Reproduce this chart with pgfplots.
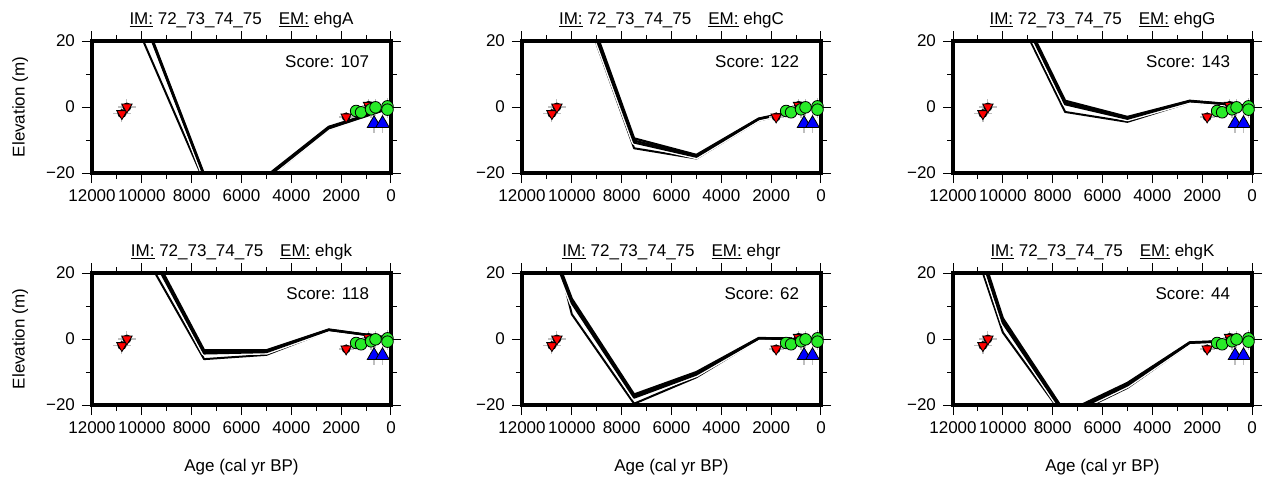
\documentclass[border=0pt]{standalone}
\usepackage{fontspec}
\setmainfont{Liberation Sans}
\usepackage{pgfplots}
\pgfplotsset{compat=1.18}
\definecolor{mygreen}{RGB}{40,235,40}
% model line with white outline
\newcommand\mlw[1]{%
\addplot[white, line width=2.4pt, line join=round] coordinates {#1};
\addplot[black, line width=1.0pt, line join=round] coordinates {#1};}
% plain black model line
\newcommand\mlb[1]{%
\addplot[black, line width=1.1pt, line join=round] coordinates {#1};}
\newcommand\obs{%
\addplot[only marks, mark=none, error bars/.cd, x dir=both, x explicit, y dir=both, y explicit,
  error bar style={draw=black!25, line width=0.6pt}, error mark=none] coordinates {
(10800,-2) +- (350,2.5)
(10600,0) +- (350,2.5)
(1800,-3) +- (300,1.5)
(900,0.5) +- (250,2)
(1400,-1.2) +- (250,1.5)
(1200,-1.6) +- (250,1.5)
(800,-0.7) +- (250,2.5)
(620,-0.1) +- (250,2.5)
(140,0.2) +- (200,2.5)
(140,-0.8) +- (200,2.5)
(680,-5) +- (150,3)
(340,-5) +- (150,3)
};
\addplot[only marks, mark=triangle*, mark size=3pt, mark options={rotate=180, fill=red, draw=black, line width=0.4pt}] coordinates {(10800,-2)(10600,0)(1800,-3)(900,0.5)};
\addplot[only marks, mark=*, mark size=2.9pt, mark options={fill=mygreen, draw=black, line width=0.4pt}] coordinates {(1400,-1.2)(1200,-1.6)(800,-0.7)(620,-0.1)(140,0.2)(140,-0.8)};
\addplot[only marks, mark=triangle*, mark size=3.9pt, mark options={fill=blue, draw=black, line width=0.4pt}] coordinates {(680,-5)(340,-5)};
}
\pgfplotsset{
 panel/.style={
  scale only axis, width=149.5pt, height=66pt, anchor=north west,
  x dir=reverse, xmin=0, xmax=12000, ymin=-20, ymax=20,
  xtick={0,2000,4000,6000,8000,10000,12000},
  xticklabels={0,2000,4000,6000,8000,10000,12000},
  minor xtick={1000,3000,5000,7000,9000,11000},
  ytick={-20,0,20}, yticklabels={−20,0,20}, minor ytick={-10,10},
  scaled x ticks=false,
  tick pos=both, tick align=outside,
  major tick length=5pt, minor tick length=3pt,
  every tick/.style={black, line width=0.5pt},
  xticklabel pos=lower, yticklabel pos=left,
  axis line style={line width=2pt},
  axis on top,
  title style={at={(0.5,1)}, anchor=base, yshift=2.5pt},
  every axis y label/.style={at={(axis description cs:-0.24,0.5)}, rotate=90, anchor=center},
  every axis x label/.style={at={(axis description cs:0.5,-0.47)}, anchor=center},
 }
}
\newcommand\ttl[1]{\underline{IM:} 72\_73\_74\_75\quad\underline{EM:} #1}
\begin{document}
\begin{tikzpicture}[font=\fontsize{8.5pt}{10pt}\selectfont]
\useasboundingbox (0,0) rectangle (635pt,-239.5pt);
% ---- ehgA
\begin{axis}[panel, at={(46pt,-20.5pt)}, title={\ttl{ehgA}}, ylabel={Elevation (m)}]
\mlw{(12000,56)(10000,21)(7500,-22.5)(5000,-22)(2500,-6.8)(0,-0.5)}
\mlw{(12000,67)(10000,28)(7500,-21)(5000,-21.5)(2500,-6.5)(0,-0.3)}
\mlb{(12000,67.5)(10000,28.4)(7500,-20.7)(5000,-21.2)(2500,-6.2)(0,-0.2)}
\mlb{(12000,68)(10000,28.8)(7500,-20.4)(5000,-20.9)(2500,-6.0)(0,-0.1)}
\obs
\node[anchor=east] at (rel axis cs:0.95,0.843) {Score: 107};
\end{axis}
% ---- ehgC
\begin{axis}[panel, at={(261pt,-20.5pt)}, title={\ttl{ehgC}}]
\mlw{(12000,80)(10000,40)(7500,-12.5)(5000,-15.6)(2500,-4.1)(0,0.3)}
\mlw{(12000,83)(10000,41)(7500,-10.8)(5000,-15.1)(2500,-3.7)(0,0.4)}
\mlb{(12000,84)(10000,42)(7500,-10.2)(5000,-14.8)(2500,-3.6)(0,0.45)}
\mlb{(12000,85)(10000,43)(7500,-9.5)(5000,-14.5)(2500,-3.5)(0,0.5)}
\obs
\node[anchor=east] at (rel axis cs:0.95,0.843) {Score: 122};
\end{axis}
% ---- ehgG
\begin{axis}[panel, at={(476.5pt,-20.5pt)}, title={\ttl{ehgG}}]
\mlw{(12000,66)(10000,37)(7500,-1.5)(5000,-4.5)(2500,1.4)(0,0.2)}
\mlw{(12000,69)(10000,39.3)(7500,0.8)(5000,-3.6)(2500,1.7)(0,0.25)}
\mlb{(12000,70)(10000,40)(7500,1.3)(5000,-3.3)(2500,1.8)(0,0.3)}
\mlb{(12000,71)(10000,40.5)(7500,1.9)(5000,-3)(2500,1.9)(0,0.3)}
\obs
\node[anchor=east] at (rel axis cs:0.95,0.843) {Score: 143};
\end{axis}
% ---- ehgk
\begin{axis}[panel, at={(46pt,-136.5pt)}, title={\ttl{ehgk}}, ylabel={Elevation (m)}, xlabel={Age (cal yr BP)}]
\mlw{(12000,53.6)(10000,27.1)(7500,-6.1)(5000,-4.8)(2500,2.5)(0,0.2)}
\mlw{(12000,59)(10000,30.8)(7500,-4.4)(5000,-4.0)(2500,2.7)(0,0.25)}
\mlb{(12000,60)(10000,31.5)(7500,-3.9)(5000,-3.7)(2500,2.8)(0,0.3)}
\mlb{(12000,61)(10000,32.3)(7500,-3.4)(5000,-3.4)(2500,2.9)(0,0.3)}
\obs
\node[anchor=east] at (rel axis cs:0.95,0.843) {Score: 118};
\end{axis}
% ---- ehgr
\begin{axis}[panel, at={(261pt,-136.5pt)}, title={\ttl{ehgr}}, xlabel={Age (cal yr BP)}]
\mlw{(12000,68)(10000,7.5)(7500,-19.6)(5000,-11.6)(2500,-0.1)(0,0)}
\mlw{(12000,50)(10000,10.8)(7500,-17.8)(5000,-10.8)(2500,0.1)(0,0)}
\mlb{(12000,51)(10000,11.5)(7500,-17.3)(5000,-10.4)(2500,0.2)(0,0.05)}
\mlb{(12000,52)(10000,12.2)(7500,-16.8)(5000,-10)(2500,0.3)(0,0.1)}
\obs
\node[anchor=east] at (rel axis cs:0.95,0.843) {Score: 62};
\end{axis}
% ---- ehgK
\begin{axis}[panel, at={(476.5pt,-136.5pt)}, title={\ttl{ehgK}}, xlabel={Age (cal yr BP)}]
\mlw{(12000,47)(10000,2)(7500,-24)(5000,-14.8)(2500,-1.5)(0,-0.5)}
\mlw{(12000,51)(10000,4.8)(7500,-23.2)(5000,-14.1)(2500,-1.2)(0,-0.35)}
\mlb{(12000,52)(10000,5.5)(7500,-22.8)(5000,-13.7)(2500,-1.1)(0,-0.3)}
\mlb{(12000,53)(10000,6.3)(7500,-22.3)(5000,-13.3)(2500,-1.0)(0,-0.3)}
\obs
\node[anchor=east] at (rel axis cs:0.95,0.843) {Score: 44};
\end{axis}
\end{tikzpicture}
\end{document}
